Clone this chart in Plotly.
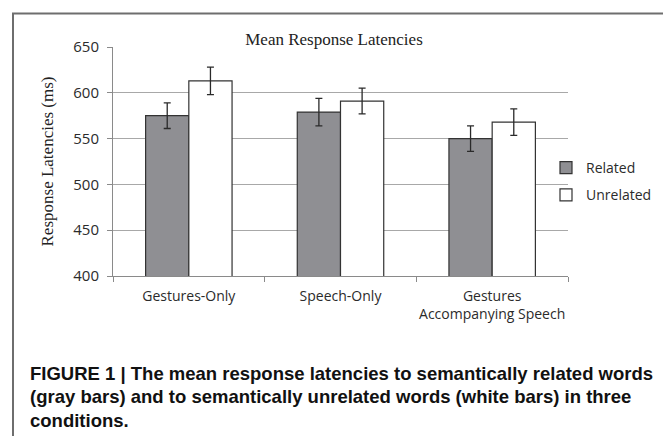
import plotly.graph_objects as go

conditions = ["Gestures-Only", "Speech-Only", "Gestures<br>Accompanying Speech"]
related = [575, 579, 550]
related_err = [14, 15, 14]
unrelated = [613, 591, 568]
unrelated_err = [15, 14, 14.5]
y_ticks = [400, 450, 500, 550, 600, 650]
caption_lines = [
    "FIGURE 1 | The mean response latencies to semantically related words",
    "(gray bars) and to semantically unrelated words (white bars) in three",
    "conditions.",
]

# page body has an 8px margin; work in page coordinates and subtract it
OFF = 8
W, H = 671 - OFF, 436 - OFF
L, R, T, B = 113 - OFF, 671 - 568, 47 - OFF, 436 - 276
pw, ph = W - L - R, H - T - B

def px_x(x):
    return (x - OFF - L) / pw

def px_y(y):
    return (H - B - (y - OFF)) / ph

fig = go.Figure()
fig.add_trace(go.Bar(
    name="Related", x=conditions, y=related,
    marker=dict(color="#8f8f93", line=dict(color="#333333", width=1.2)),
    error_y=dict(type="data", array=related_err, color="#2a2a2a", thickness=1.3, width=3.5),
    legendgroup="a",
))
fig.add_trace(go.Bar(
    name="Unrelated", x=conditions, y=unrelated,
    marker=dict(color="#ffffff", line=dict(color="#333333", width=1.2)),
    error_y=dict(type="data", array=unrelated_err, color="#2a2a2a", thickness=1.3, width=3.5),
    legendgroup="b",
))

fig.update_layout(
    width=W, height=H,
    margin=dict(l=L, r=R, t=T, b=B),
    paper_bgcolor="white", plot_bgcolor="white",
    barmode="group", bargap=0.43, bargroupgap=0,
    font=dict(family="Open Sans", size=14, color="#2b2b2b"),
    title=dict(text="Mean Response Latencies", x=(334 - OFF) / W, xanchor="center",
               y=1 - (39 - OFF) / H, yanchor="middle",
               font=dict(family="Liberation Serif", size=17, color="#222222")),
    legend=dict(x=px_x(546), y=px_y(181.5), xanchor="left", yanchor="middle",
                traceorder="grouped", tracegroupgap=6, itemwidth=30,
                font=dict(family="Open Sans", size=14, color="#2b2b2b"),
                bgcolor="rgba(0,0,0,0)"),
    showlegend=True,
)
fig.update_yaxes(
    range=[400, 650], tickvals=y_ticks,
    showgrid=True, gridcolor="#a8a8a8", gridwidth=1,
    showline=True, linecolor="#8a8a8a", linewidth=1,
    ticks="outside", ticklen=5, tickcolor="#8a8a8a", ticklabelstandoff=5,
    tickfont=dict(family="Open Sans", size=15, color="#2b2b2b"),
    title=dict(text="Response Latencies (ms)", standoff=15,
               font=dict(family="Liberation Serif", size=17, color="#222222")),
    zeroline=False,
)
fig.update_xaxes(
    showline=True, linecolor="#8a8a8a", linewidth=1,
    ticks="outside", ticklen=5, tickcolor="#8a8a8a", tickson="boundaries",
    ticklabelstandoff=7, tickangle=0,
    tickfont=dict(family="Open Sans", size=14, color="#2b2b2b"),
    showgrid=False,
)

# figure frame
fig.add_shape(type="rect", xref="paper", yref="paper",
              x0=px_x(13), x1=px_x(669), y0=px_y(450), y1=px_y(13.5),
              line=dict(color="#6e6e6e", width=2), fillcolor="rgba(0,0,0,0)", layer="above")

for i, line in enumerate(caption_lines):
    fig.add_annotation(text="<b>" + line + "</b>", xref="paper", yref="paper",
                       x=px_x(28), y=px_y(373 + 23.5 * i), xanchor="left", yanchor="middle",
                       align="left", showarrow=False,
                       font=dict(family="Liberation Sans", size=18.5, color="#111111"))

fig.write_html("out.html")
